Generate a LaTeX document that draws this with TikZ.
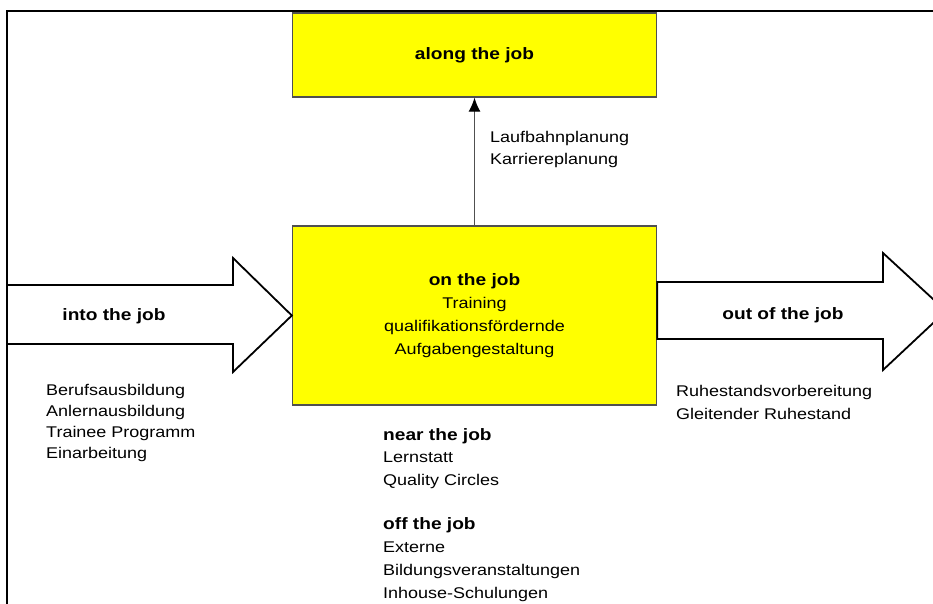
\documentclass[tikz,border=0pt]{standalone}
\usepackage{fontspec}
\setmainfont[FakeStretch=1.16]{Liberation Sans}
\usetikzlibrary{positioning}
\usetikzlibrary{calc}
\usetikzlibrary{arrows.meta}
\definecolor{boxyellow}{RGB}{255,255,0}
\definecolor{edgegray}{RGB}{80,80,80}
\newcommand{\headlbl}[1]{{\fontsize{16.5}{20}\selectfont\bfseries #1}}
\tikzset{>={Latex[length=14pt,width=12pt,color=black]}}
\tikzset{jobbox/.style={rectangle, draw=edgegray, line width=1.3pt, fill=boxyellow, minimum width=364pt, align=center, font=\fontsize{15.5}{23}\selectfont}}
\tikzset{blockarrow/.style={draw=black, line width=1.8pt, fill=white}}
\tikzset{arrowlabel/.style={font=\fontsize{16.5}{20}\selectfont\bfseries}}
\tikzset{measures/.style={align=left, anchor=base west, inner sep=0pt, font=\fontsize{15.5}{#1}\selectfont}}

\begin{document}
\begin{tikzpicture}[x=1pt, y=-1pt]
    \useasboundingbox (0,0) rectangle (933,603);
    \clip (0,0) rectangle (933,603);

    % The frame, only its upper and left sides are in the picture.
    \draw [line width=2.4pt] (7,620) -- (7,11) -- (950,11);

    \node [jobbox, minimum height=84pt] (along) at (474.5,55) {\headlbl{along the job}};
    \node [jobbox, minimum height=179pt] (onjob) at (474.5,315.5) {\headlbl{on the job}\\Training\\qualifikationsfördernde\\Aufgabengestaltung};

    \draw [->, draw=edgegray, line width=1.3pt] (onjob) -- (along);
    % (base of a multi-line node is its last line)
    \node [measures=22] (career) at (490,164.5) {Laufbahnplanung\\Karriereplanung};

    % The two block arrows on either side of the job.
    \draw [blockarrow] (7,285) -- (233,285) -- (233,258) -- (onjob.west) -- (233,372)
        -- (233,344) -- (7,344) -- cycle;
    \draw [blockarrow] (onjob.east |- 0,282) -- (883,282) -- (883,253) -- (946,311)
        -- (883,370) -- (883,339) -- (onjob.east |- 0,339) -- cycle;
    \node [arrowlabel] (into) at (114,316) {into the job};
    \node [arrowlabel] (outof) at (783,315) {out of the job};

    \node [measures=21] (intolist) at (46,458) {Berufsausbildung\\Anlernausbildung\\Trainee Programm\\Einarbeitung};
    \node [measures=23] (outlist) at (676,419) {Ruhestandsvorbereitung\\Gleitender Ruhestand};

    \node [measures=22.7] (near) at (383,485.5) {\headlbl{near the job}\\Lernstatt\\Quality Circles};
    \node [measures=22.7] (off) at (383,598) {\headlbl{off the job}\\Externe\\Bildungsveranstaltungen\\Inhouse-Schulungen};

\end{tikzpicture}
\end{document}
